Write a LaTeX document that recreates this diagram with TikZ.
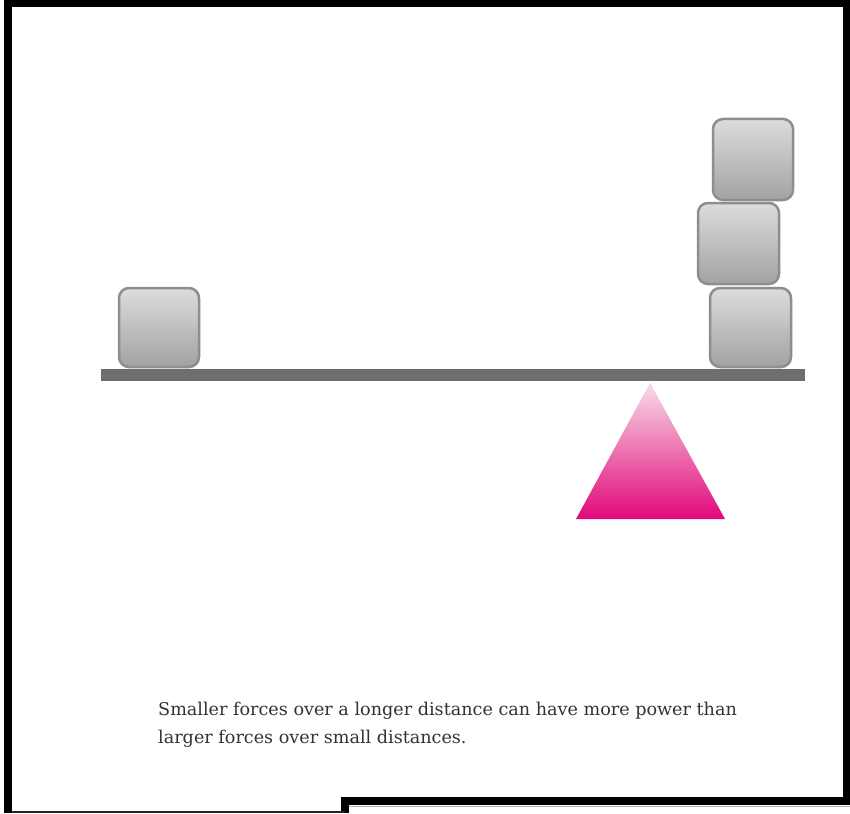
\documentclass[tikz,border=0pt]{standalone}
\usepackage{fontspec}
\setmainfont{DejaVu Serif}
\definecolor{beamgray}{HTML}{6E6E6E}
\definecolor{blocktop}{HTML}{DCDCDC}
\definecolor{blockbot}{HTML}{A2A2A2}
\definecolor{blockedge}{HTML}{8E8E8E}
\definecolor{pivottop}{HTML}{F8DCE8}
\definecolor{pivotbot}{HTML}{E0087A}
\definecolor{captiongray}{HTML}{333333}
\tikzset{
  block/.style={draw=blockedge, line width=2.5pt, rounded corners=10pt,
    top color=blocktop, bottom color=blockbot},
  frameline/.style={black, line width=8pt, line join=miter}
}

\begin{document}
\begin{tikzpicture}[x=1pt,y=-1pt]
\useasboundingbox (0,0) rectangle (850,813);
\fill[white] (0,0) rectangle (850,813);
\draw[frameline] (8,813) -- (8,3.5) -- (847,3.5) -- (847,801) -- (345,801) -- (345,813);
\draw[black!85, line width=1.2pt] (12,812) -- (345,812);
\draw[black!30, line width=1pt] (349,806.5) -- (850,806.5);
\fill[beamgray] (101,369) rectangle (805,381);
\shade[top color=pivottop, bottom color=pivotbot] (650,383) -- (725,519) -- (576,519) -- cycle;
\draw[block] (119,288) rectangle (199,367);
\draw[block] (710,288) rectangle (791,367);
\draw[block] (698,203) rectangle (779,284);
\draw[block] (713,119) rectangle (793,200);
\node[anchor=base west, align=left, text=captiongray, inner sep=0pt,
  font=\fontsize{17.6}{28}\selectfont] (caption) at (158,743)
  {Smaller forces over a longer distance can have more power than\\
   larger forces over small distances.};
\end{tikzpicture}
\end{document}
